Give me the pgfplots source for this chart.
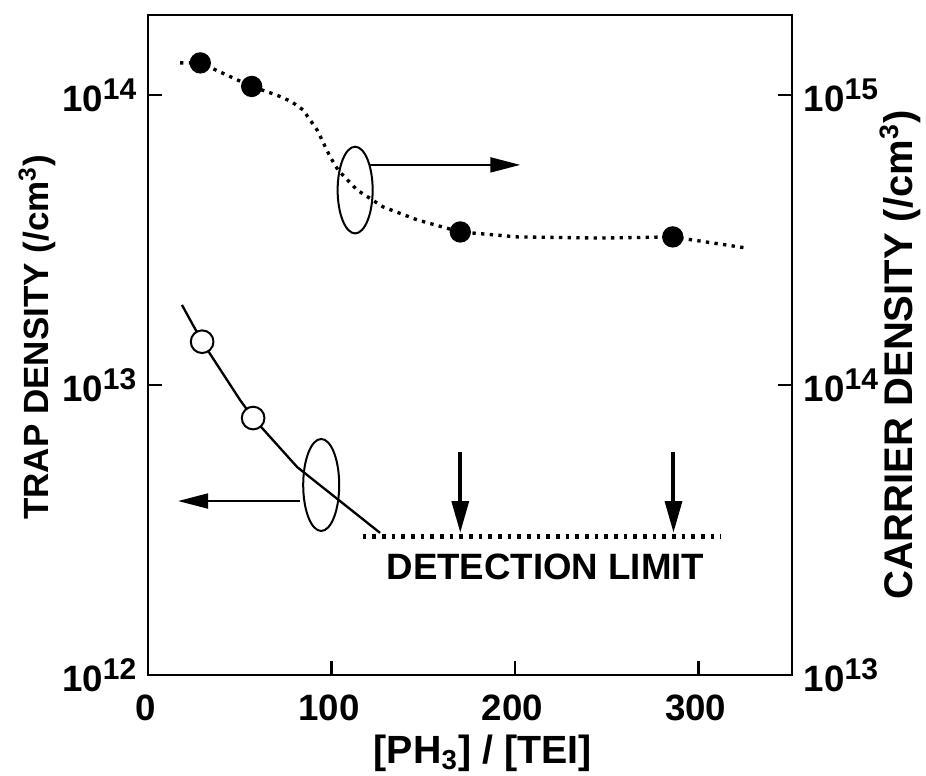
\documentclass[border=0pt]{standalone}
\usepackage{fontspec}
\setmainfont{Liberation Sans}
\usepackage{pgfplots}
\usepackage{pgfplotstable}
\pgfplotsset{compat=1.18}
\usetikzlibrary{arrows.meta}
\newcommand{\E}[1]{10\raisebox{3.6pt}{\fontsize{9}{9}\selectfont #1}}

\pgfplotstableread{
x y
18.5 1.888e13
29.5 1.41e13
50.2 8.87e12
57.3 7.69e12
81.3 5.21e12
126.5 3.09e12
}\trapline

\pgfplotstableread{
x y
29.5 1.41e13
57.3 7.69e12
}\trappts

\pgfplotstableread{
x y
17.5 1.29e15
28.5 1.29e15
56.5 1.07e15
70 1.0e15
78 9.5e14
84.5 8.88e14
92.2 7.57e14
99.3 6.11e14
103.6 5.51e14
114 4.70e14
128.2 4.11e14
146.7 3.71e14
170.2 3.37e14
201.3 3.24e14
246.5 3.21e14
285.8 3.24e14
325.6 2.97e14
}\carrline

\pgfplotstableread{
x y
28.5 1.29e15
56.5 1.07e15
170.2 3.37e14
286 3.24e14
}\carrpts

\begin{document}
\begin{tikzpicture}[font=\fontsize{11}{13}\selectfont\bfseries]
\begin{axis}[
  width=193.2pt, height=198pt, scale only axis,
  xmin=0, xmax=351,
  ymode=log,
  tick align=inside,
  major tick length=4.2pt,
  yminorticks=false,
  axis line style={line width=0.8pt},
  every tick/.append style={black, line width=0.8pt},
  tick label style={font=\fontsize{11}{13}\selectfont\bfseries},
  xticklabel style={yshift=-2.5pt, xshift=-0.8pt},
  ymin=1e12, ymax=1.888e14,
  xtick={0,100,200,300},
  xticklabels={0,100,200,300},
  xtick pos=bottom,
  ytick pos=left,
  ytick={1e12,1e13,1e14},
  yticklabels={\E{12},\E{13},\E{14}},
  xlabel={[PH\textsubscript{3}] / [TEI]},
  xlabel style={font=\fontsize{11.8}{13}\selectfont\bfseries, at={(axis description cs:0.52,-0.118)}, anchor=center},
  ylabel={TRAP DENSITY (/cm\textsuperscript{3})},
  ylabel style={font=\fontsize{10.5}{13}\selectfont\bfseries, at={(axis description cs:-0.172,0.512)}, anchor=center},
]
\coordinate (SW) at (rel axis cs:0,0);
\coordinate (NE) at (rel axis cs:1,1);
\addplot[black, line width=0.7pt, no marks] table {\trapline};
\addplot[only marks, mark=*, mark size=3.4pt, mark options={fill=white, draw=black, line width=0.6pt}] table {\trappts};
\addplot[black, line width=1.4pt, dash pattern=on 1.1pt off 1.8pt, no marks] coordinates {(117,3e12) (312,3e12)};
\draw[line width=1.2pt, -{Triangle[length=9.5pt,width=5pt]}] (axis cs:170.2,5.88e12) -- (axis cs:170.2,3.09e12);
\draw[line width=1.2pt, -{Triangle[length=9.5pt,width=5pt]}] (axis cs:286.4,5.88e12) -- (axis cs:286.4,3.09e12);
\node[anchor=center] at (axis cs:216.6,2.36e12) {DETECTION LIMIT};
\draw[line width=0.6pt] (axis cs:94.4,4.52e12) ellipse [x radius=5.4pt, y radius=13.8pt];
\draw[line width=0.6pt, -{Triangle[length=9pt,width=4.5pt]}] (axis cs:82.9,3.98e12) -- (axis cs:16.4,3.98e12);
\draw[line width=0.6pt] (axis cs:112.9,4.70e13) ellipse [x radius=5.25pt, y radius=13pt];
\draw[line width=0.6pt, -{Triangle[length=9pt,width=4.5pt]}] (axis cs:121.1,5.74e13) -- (axis cs:202.9,5.74e13);
\end{axis}
\begin{axis}[
  width=193.2pt, height=198pt, scale only axis,
  xmin=0, xmax=351,
  ymode=log,
  tick align=inside,
  major tick length=4.2pt,
  yminorticks=false,
  axis line style={line width=0.8pt},
  every tick/.append style={black, line width=0.8pt},
  tick label style={font=\fontsize{11}{13}\selectfont\bfseries},
  ymin=1e13, ymax=1.888e15,
  axis x line=none,
  axis y line*=right,
  ytick={1e13,1e14,1e15},
  yticklabels={\E{13},\E{14},\E{15}},
  ylabel={CARRIER DENSITY (/cm\textsuperscript{3})},
  ylabel style={font=\fontsize{12}{13}\selectfont\bfseries, at={(axis description cs:1.168,0.485)}, anchor=center},
]
\addplot[black, line width=1pt, dash pattern=on 1pt off 1.6pt, no marks] table {\carrline};
\addplot[only marks, mark=*, mark size=3pt, mark options={fill=black, draw=black}] table {\carrpts};
\end{axis}
\pgfresetboundingbox
\path[use as bounding box] ([xshift=-44.4pt,yshift=-30pt]SW) rectangle ([xshift=40.2pt,yshift=4.5pt]NE);
\end{tikzpicture}
\end{document}
